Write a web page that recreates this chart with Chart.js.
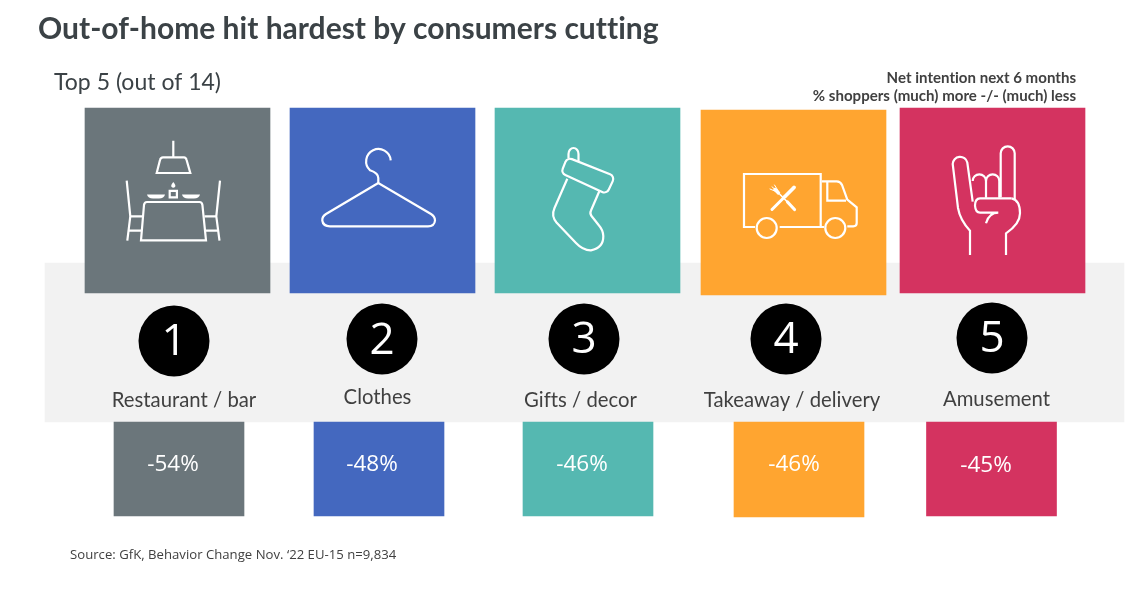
<!DOCTYPE html>
<html>
<head>
<meta charset="utf-8">
<title>Out-of-home hit hardest by consumers cutting</title>
<script src="https://cdn.jsdelivr.net/npm/chart.js@4/dist/chart.umd.min.js"></script>
<style>
  html, body { margin: 0; padding: 0; background: #fff; }
  canvas { display: block; }
</style>
</head>
<body>
<canvas id="grafico" width="1138" height="589"></canvas>
<script>
// dados
const categorias = ["Restaurant / bar", "Clothes", "Gifts / decor", "Takeaway / delivery", "Amusement"];
const ranking = [1, 2, 3, 4, 5];
const intencaoLiquida = [-54, -48, -46, -46, -45];

const titulo = "Out-of-home hit hardest by consumers cutting";
const subtitulo = "Top 5 (out of 14)";
const notaLinha1 = "Net intention next 6 months";
const notaLinha2 = "% shoppers (much) more -/- (much) less";
const fonte = "Source: GfK, Behavior Change Nov. ‘22 EU-15 n=9,834";

// layout (unidades = pixels da pagina)
const cores = ["#6b767b", "#4468bf", "#55b8b1", "#ffa530", "#d43360"];
const tileX = [177.5, 382.5, 587.5, 793.5, 992.5];
const tileTopo = [108, 108, 108, 110, 108];
const valorX = [179, 379, 588, 799, 991.5];
const valorBase = [516, 516, 516, 517, 516];
const circuloX = [174, 382, 584, 786, 992];
const circuloY = [341, 339, 339, 339, 338];
const digitoY = [342, 341, 340, 340, 339.5];
const rotuloX = [184, 377.5, 580.5, 792, 996.5];
const rotuloY = [400, 397.5, 400.5, 400.5, 399.5];
const textoValorX = [173, 372, 582, 794, 986];
const textoValorY = [465, 465, 465, 465, 466];

// icones em coordenadas locais de cada quadrado
function poly(ctx, pts, r) {
  const n = pts.length;
  ctx.moveTo((pts[0][0] + pts[n - 1][0]) / 2, (pts[0][1] + pts[n - 1][1]) / 2);
  for (let i = 0; i < n; i++) {
    const a = pts[i], b = pts[(i + 1) % n];
    ctx.arcTo(a[0], a[1], b[0], b[1], r);
  }
  ctx.closePath();
}

const icones = [
  function restaurante(ctx) {
    ctx.stroke(new Path2D("M88.3 32.7V49.3M71.7 65L75 52Q75.6 49.3 78 49.3H99Q101 49.3 101.6 52L105.3 65Z"));
    ctx.stroke(new Path2D("M84.7 82.8h7.2v6.6h-7.2z"));
    ctx.stroke(new Path2D("M56 132.3L59 97Q59.4 94 62 94H114.5Q117 94 117.4 97L121 132.3Z"));
    ctx.stroke(new Path2D("M41.7 72.7L45.3 108.3L42.3 132.7M45.3 108.3H57.5M44.3 122.7H56.5"));
    ctx.stroke(new Path2D("M135 72.7L131.3 108.3L134.5 132.7M131.3 108.3H119.5M132.3 122.7H120.5"));
    ctx.fill(new Path2D("M62 86.5H80Q79 90.5 74 90.5H68Q63 90.5 62 86.5Z"));
    ctx.fill(new Path2D("M97 86.5H115Q114 90.5 109 90.5H103Q98 90.5 97 86.5Z"));
    ctx.fill(new Path2D("M88.3 74Q91 77 90.2 78.8Q88.3 80.5 86.4 78.8Q85.6 77 88.3 74Z"));
  },
  function cabide(ctx) {
    ctx.stroke(new Path2D("M100.7 52.3A12.3 12.3 0 1 0 80 62.3Q88.3 65 88.3 70V75"));
    ctx.stroke(new Path2D("M88.3 75L36 106Q32 108.5 32.3 112.5Q33 118.3 40 118.3H138Q144.5 118.3 145 112.5Q145 108.5 141 106Z"));
  },
  function meia(ctx) {
    ctx.stroke(new Path2D("M73.5 50V46A5 6 0 0 1 83.5 46V53"));
    ctx.beginPath();
    poly(ctx, [[72.3, 49.3], [120, 68.3], [111.7, 86], [66, 65]], 5);
    ctx.stroke();
    ctx.stroke(new Path2D("M72.3 70.7L59.5 100Q56 108 61.5 114.5L81 135Q88 142.5 96 142.3Q108.5 140 108.3 128Q108 122 104 117.5L96.5 108Q94.5 105.5 96 102.5L104.3 83.3"));
  },
  function caminhao(ctx) {
    ctx.stroke(new Path2D("M54 117H43V64H119.7V117M78.7 117H123"));
    ctx.stroke(new Path2D("M120.7 71.3H135.7Q139.5 71.5 141 75L146.3 89.7L155.7 97.3V113Q155.7 116.3 152.3 116.3H146.3"));
    ctx.stroke(new Path2D("M126.3 72V90.7H145"));
    ctx.stroke(new Path2D("M75.7 118A10 10 0 1 1 55.7 118A10 10 0 1 1 75.7 118Z"));
    ctx.stroke(new Path2D("M144.3 118A10 10 0 1 1 124.3 118A10 10 0 1 1 144.3 118Z"));
    // talheres
    ctx.lineCap = "round";
    ctx.lineWidth = 3;
    ctx.stroke(new Path2D("M71 99.5L84 86.5"));
    ctx.lineWidth = 3.8;
    ctx.stroke(new Path2D("M84 86.5L93 77.5"));
    ctx.lineWidth = 3.2;
    ctx.stroke(new Path2D("M93.5 99.5L86.5 92"));
    ctx.lineWidth = 1.6;
    ctx.stroke(new Path2D("M86.5 92L79 84.5"));
    ctx.lineWidth = 3.4;
    ctx.stroke(new Path2D("M77.5 83L74 79.5"));
    ctx.lineWidth = 1;
    ctx.stroke(new Path2D("M76 82L69 79M76 81L71 76.8M77 80.5L73.5 75"));
    ctx.lineCap = "butt";
    ctx.lineWidth = 2.2;
  },
  function mao(ctx) {
    ctx.stroke(new Path2D("M70 147V122.7Q60 112 58 100L52.7 56A7.4 7.4 0 0 1 67.3 54.5L72.7 93.7"));
    ctx.stroke(new Path2D("M72.7 73A6.6 6.6 0 0 1 86 73V89.7"));
    ctx.stroke(new Path2D("M86 73A6.6 6.6 0 0 1 99.3 73V89.7"));
    ctx.stroke(new Path2D("M100.7 89.3V45.3A7 7 0 0 1 114.7 45.3V92"));
    ctx.stroke(new Path2D("M111.7 90.3H80Q75 90.5 75 97.7Q75.5 104.7 80 104.7H98.3M98.3 104.7Q89 104.7 86 115.3"));
    ctx.stroke(new Path2D("M111.7 90.3Q120 92 120 105.3Q120 116 106 125.3V147"));
  }
];

// desenha textos e icones em cima dos elementos do grafico
const pluginInfografico = {
  id: "infografico",
  afterDatasetsDraw(chart) {
    const ctx = chart.ctx;
    const x = chart.scales.x, y = chart.scales.y;
    ctx.save();

    ctx.strokeStyle = "#fff";
    ctx.fillStyle = "#fff";
    ctx.lineWidth = 2.2;
    chart.getDatasetMeta(1).data.forEach((barra, i) => {
      ctx.save();
      ctx.translate(barra.x - 92.5, tileTopo[i]);
      icones[i](ctx);
      ctx.restore();
    });

    function texto(str, px, py, fonteCss, cor, align) {
      ctx.font = fonteCss;
      ctx.fillStyle = cor;
      ctx.textAlign = align || "center";
      ctx.textBaseline = "middle";
      ctx.letterSpacing = "0.01px"; // sem ligaduras
      ctx.fillText(str, px, py);
    }

    texto(titulo, 38, 29, "bold 30px Lato", "#3b4246", "left");
    texto(subtitulo, 54, 83, "23px Lato", "#3b4246", "left");
    texto(notaLinha1, 1076, 78, "bold 15.05px Lato", "#404040", "right");
    texto(notaLinha2, 1076, 96, "bold 15.05px Lato", "#404040", "right");
    texto(fonte, 70, 555, "13.15px 'Open Sans'", "#404040", "left");

    ranking.forEach((n, i) => {
      texto(String(n), x.getPixelForValue(circuloX[i]), y.getPixelForValue(digitoY[i]), "500 44px 'Open Sans'", "#fff");
      texto(categorias[i], x.getPixelForValue(rotuloX[i]), y.getPixelForValue(rotuloY[i]), "20.3px Lato", "#404040");
      texto(intencaoLiquida[i] + "%", x.getPixelForValue(textoValorX[i]), y.getPixelForValue(textoValorY[i]), "22.5px 'Open Sans'", "#fff");
    });
    ctx.restore();
  }
};

new Chart(document.getElementById("grafico").getContext("2d"), {
  type: "bar",
  data: {
    datasets: [
      {
        // faixa cinza
        data: [{ x: 584.5, y: [263, 422] }],
        backgroundColor: "#f2f2f2",
        barThickness: 1079,
        order: 3
      },
      {
        // quadrados com icones
        data: tileX.map((v, i) => ({ x: v, y: [tileTopo[i], tileTopo[i] + 185] })),
        backgroundColor: cores,
        barThickness: 185,
        order: 2
      },
      {
        // quadrados com os valores
        data: valorX.map((v, i) => ({ x: v, y: [422, valorBase[i]] })),
        backgroundColor: cores,
        barThickness: 130,
        order: 2
      },
      {
        // circulos do ranking
        type: "scatter",
        data: circuloX.map((v, i) => ({ x: v, y: circuloY[i] })),
        backgroundColor: "#000",
        borderWidth: 0,
        pointRadius: 35.5,
        pointHoverRadius: 35.5,
        order: 1
      }
    ]
  },
  options: {
    responsive: false,
    animation: false,
    devicePixelRatio: 1,
    layout: { padding: 0, autoPadding: false },
    plugins: { legend: { display: false }, title: { display: false }, tooltip: { enabled: false } },
    datasets: { bar: { grouped: false, borderSkipped: false } },
    clip: false,
    scales: {
      x: { type: "linear", min: 0, max: 1138, display: false, offset: false },
      y: { type: "linear", min: 0, max: 589, reverse: true, display: false, offset: false }
    }
  },
  plugins: [pluginInfografico]
});
</script>
</body>
</html>
